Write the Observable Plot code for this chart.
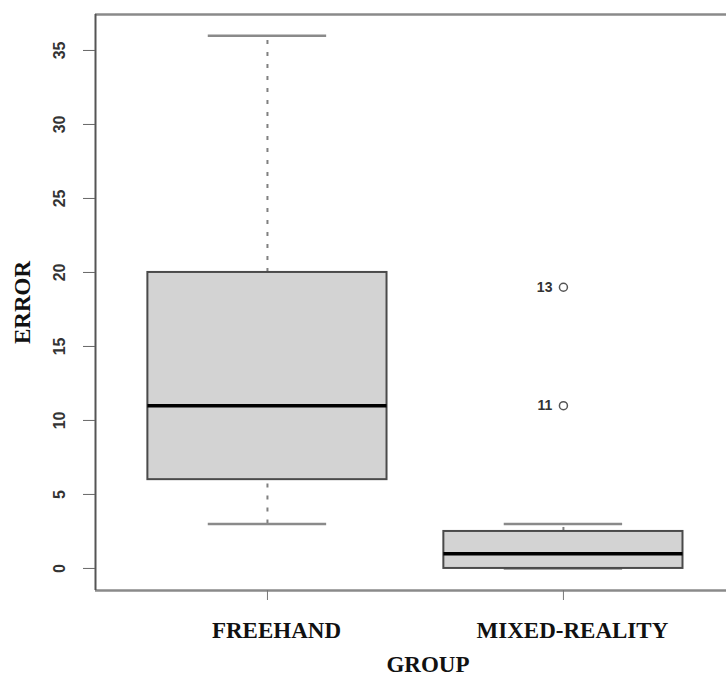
<!DOCTYPE html>
<html>
<head>
<meta charset="utf-8">
<script src="https://cdn.jsdelivr.net/npm/d3@7"></script>
<script src="https://cdn.jsdelivr.net/npm/@observablehq/plot@0.6"></script>
<style>
  body { margin: 0; background: #fff; }
  #chart svg { display: block; }
</style>
</head>
<body>
<div id="chart"></div>
<script>
// Data
const groups = ["FREEHAND", "MIXED-REALITY"];
const lowerWhisker = [3, 0];
const q1 = [6, 0];
const median = [11, 1];
const q3 = [20, 2.5];
const upperWhisker = [36, 3];
const outlierGroup = ["MIXED-REALITY", "MIXED-REALITY"];
const outlierValue = [19, 11];
const outlierLabel = ["13", "11"];
const yTicks = [0, 5, 10, 15, 20, 25, 30, 35];

const boxes = groups.map((g, i) => ({
  group: g, pos: i + 1,
  lo: lowerWhisker[i], q1: q1[i], med: median[i], q3: q3[i], hi: upperWhisker[i]
}));
const outliers = outlierValue.map((v, i) => ({
  pos: groups.indexOf(outlierGroup[i]) + 1, value: v, label: outlierLabel[i]
}));

const half = 0.404, capHalf = 0.2;
const xDomain = [0.419, 2.551];
const yDomain = [-1.49, 37.43];
const serif = "Liberation Serif, Times New Roman, serif";
const sans = "Liberation Sans, Arial, sans-serif";

const chart = Plot.plot({
  width: 726,
  height: 677,
  marginLeft: 95,
  marginRight: 0,
  marginTop: 14,
  marginBottom: 87,
  style: { background: "#fff", overflow: "visible" },
  x: { type: "linear", domain: xDomain },
  y: { domain: yDomain },
  marks: [
    // frame lines (top, bottom, left)
    Plot.ruleY([yDomain[1]], { stroke: "#8a8a8a", strokeWidth: 2.5 }),
    Plot.ruleY([yDomain[0]], { stroke: "#8a8a8a", strokeWidth: 2.5 }),
    Plot.ruleX([xDomain[0]], { stroke: "#555", strokeWidth: 2 }),
    // whiskers (dashed)
    Plot.ruleX(boxes, { x: "pos", y1: "q3", y2: "hi", stroke: "#808080", strokeWidth: 2, strokeDasharray: "4,8" }),
    Plot.ruleX(boxes, { x: "pos", y1: "lo", y2: "q1", stroke: "#808080", strokeWidth: 2, strokeDasharray: "4,8" }),
    // caps
    Plot.ruleY(boxes, { y: "hi", x1: d => d.pos - capHalf, x2: d => d.pos + capHalf, stroke: "#8a8a8a", strokeWidth: 2.5 }),
    Plot.ruleY(boxes, { y: "lo", x1: d => d.pos - capHalf, x2: d => d.pos + capHalf, stroke: "#8a8a8a", strokeWidth: 2.5 }),
    // boxes
    Plot.rect(boxes, {
      x1: d => d.pos - half, x2: d => d.pos + half, y1: "q1", y2: "q3",
      fill: "#d3d3d3", stroke: "#4a4a4a", strokeWidth: 2
    }),
    // medians
    Plot.ruleY(boxes, { y: "med", x1: d => d.pos - half, x2: d => d.pos + half, stroke: "#000", strokeWidth: 3.5 }),
    // outliers
    Plot.dot(outliers, { x: "pos", y: "value", r: 4, stroke: "#555", strokeWidth: 1.5, fill: "none" }),
    Plot.text(outliers, {
      x: "pos", y: "value", text: "label", dx: -11, textAnchor: "end",
      fontSize: 14, fontWeight: "bold", fontFamily: sans, fill: "#333"
    }),
    // y axis
    Plot.axisY({
      ticks: yTicks, tickSize: 12, tickPadding: 19, tickRotate: -90, label: null,
      fontSize: 16, fontWeight: "bold", fontFamily: sans,
      stroke: "#666", fill: "#333"
    }),
    // x axis ticks
    Plot.axisX({
      ticks: [1, 2], tickSize: 10, label: null, tickFormat: () => "",
      stroke: "#777"
    }),
    // x tick labels
    Plot.text(boxes, {
      x: "pos", text: "group", frameAnchor: "bottom", dy: 47, dx: 9,
      fontSize: 23, fontWeight: "bold", fontFamily: serif, fill: "#111"
    }),
    // axis titles
    Plot.text(["ERROR"], {
      frameAnchor: "left", dx: -73, rotate: -90, textAnchor: "middle", text: d => d,
      fontSize: 23, fontWeight: "bold", fontFamily: serif, fill: "#111"
    }),
    Plot.text(["GROUP"], {
      frameAnchor: "bottom", dx: 17, dy: 81, text: d => d,
      fontSize: 23, fontWeight: "bold", fontFamily: serif, fill: "#111"
    })
  ]
});
document.getElementById("chart").append(chart);
</script>
</body>
</html>
